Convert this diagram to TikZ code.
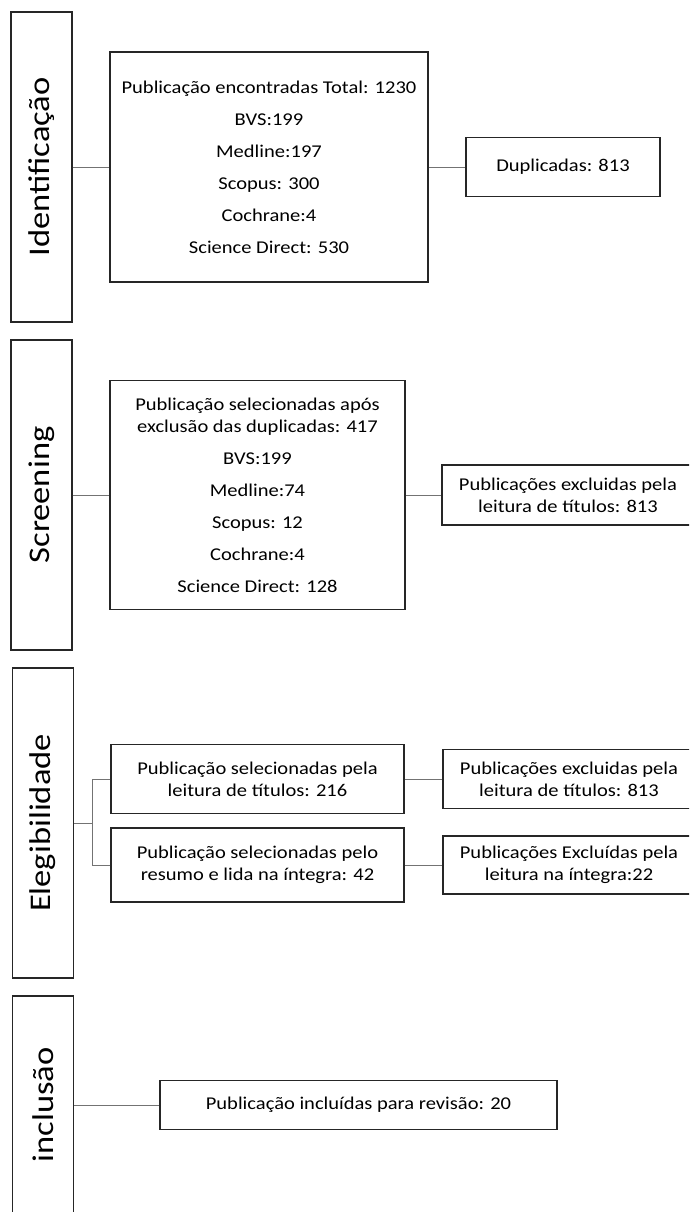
\documentclass[tikz,border=0pt]{standalone}
\usepackage{fontspec}
\setmainfont{Carlito}[FakeStretch=1.14]
\newfontfamily\stagefont{Carlito}[FakeStretch=1.15]
\begin{document}
\begin{tikzpicture}[x=1pt,y=-1pt,
  box/.style={draw=black!85, line width=1.2pt, align=center, inner sep=0pt, font=\fontsize{18}{22}\selectfont},
  stage/.style={draw=black!85, line width=1.2pt, inner sep=0pt, minimum width=61pt, minimum height=310pt},
  link/.style={draw=black!55, line width=0.9pt}]
\useasboundingbox (0,0) rectangle (689,1212);
\clip (0,0) rectangle (689,1212);

% Identificacao
\node[stage] (sid) at (41.5,167) {\rotatebox{90}{\stagefont\fontsize{30}{36}\selectfont Identificação}};
\node[box, minimum width=318pt, minimum height=230pt] (m1) at (269,167)
  {Publicação encontradas Total: 1230\\[10pt] BVS:199\\[10pt] Medline:197\\[10pt] Scopus: 300\\[10pt] Cochrane:4\\[10pt] Science Direct: 530};
\node[box, minimum width=194pt, minimum height=59pt] (dup) at (563,167) {Duplicadas: 813};
\draw[link] (sid) -- (m1);
\draw[link] (m1) -- (dup);

% Screening
\node[stage] (ssc) at (41.5,495) {\rotatebox{90}{\stagefont\fontsize{30}{36}\selectfont Screening}};
\node[box, minimum width=295pt, minimum height=229pt] (m2) at (257.5,495)
  {Publicação selecionadas após\\exclusão das duplicadas: 417\\[10pt] BVS:199\\[10pt] Medline:74\\[10pt] Scopus: 12\\[10pt] Cochrane:4\\[10pt] Science Direct: 128};
\node[box, minimum width=252pt, minimum height=60pt] (x2) at (568,495) {Publicações excluidas pela\\leitura de títulos: 813};
\draw[link] (ssc) -- (m2);
\draw[link] (m2) -- (x2);

% Elegibilidade
\node[stage] (sel) at (43,823) {\rotatebox{90}{\stagefont\fontsize{30}{36}\selectfont Elegibilidade}};
\node[box, minimum width=293pt, minimum height=69pt] (e1) at (257.5,779) {Publicação selecionadas pela\\leitura de títulos: 216};
\node[box, minimum width=293pt, minimum height=74pt] (e2) at (257.5,865) {Publicação selecionadas pelo\\resumo e lida na íntegra: 42};
\node[box, minimum width=252pt, minimum height=59pt] (e1x) at (569,779) {Publicações excluidas pela\\leitura de títulos: 813};
\node[box, minimum width=252pt, minimum height=58pt] (e2x) at (569,865) {Publicações Excluídas pela\\leitura na íntegra:22};
\coordinate (br) at (92,823);
\draw[link] (sel.east) -- (br);
\draw[link] (e1.west) -| (br);
\draw[link] (e2.west) -| (br);
\draw[link] (e1) -- (e1x);
\draw[link] (e2) -- (e2x);

% Inclusao
\node[stage, minimum height=218pt] (sin) at (43,1105) {\rotatebox{90}{\stagefont\fontsize{30}{36}\selectfont inclusão}};
\node[box, minimum width=397pt, minimum height=49pt] (inc) at (358.5,1105) {Publicação incluídas para revisão: 20};
\draw[link] (sin) -- (inc);
\end{tikzpicture}
\end{document}
